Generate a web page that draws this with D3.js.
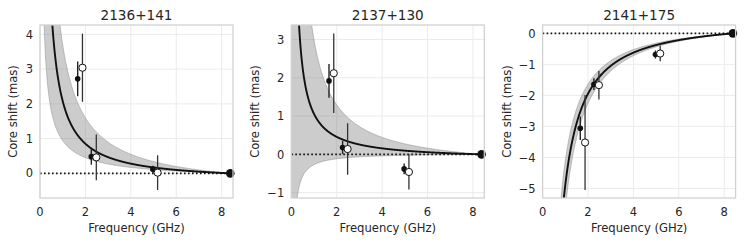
<!DOCTYPE html>
<html><head><meta charset="utf-8">
<script src="https://cdn.jsdelivr.net/npm/d3@7"></script>
<style>body{margin:0;background:#fff}svg{display:block}text{font-family:"DejaVu Sans",sans-serif;fill:#262626}</style>
</head><body><svg id="c" width="748" height="242"></svg>
<script>
const sources = ["2136+141", "2137+130", "2141+175"];
const xTicks = [0, 2, 4, 6, 8];
const xDomain = [0, 8.5];
const freqFilled = [1.66, 2.26, 4.97];
const freqOpen = [1.87, 2.48, 5.18];
const refFreq = 8.38;
const shiftFilled = [[2.72, 0.48, 0.12], [1.92, 0.18, -0.38], [-3.06, -1.64, -0.68]];
const errFilled = [[0.5, 0.23, 0.1], [0.44, 0.17, 0.14], [0.38, 0.19, 0.13]];
const shiftOpen = [[3.04, 0.46, 0.02], [2.12, 0.14, -0.46], [-3.52, -1.67, -0.65]];
const errOpen = [[0.98, 0.66, 0.5], [1.04, 0.67, 0.46], [1.53, 0.46, 0.25]];
const fitAmp = [2.3, 1.2, -5.35];
const fitPow = [1.1, 1.0, 1.15];
const bandHiAmp = [4.2, 3.4, -4.5];
const bandHiPow = [1.0, 1.0, 1.15];
const bandLoAmp = [1.15, -0.305, -6.2];
const bandLoPow = [0.8, 1.0, 1.15];
const yDomains = [[-0.71, 4.27], [-1.14, 3.38], [-5.31, 0.27]];
const yTicks = [[0, 1, 2, 3, 4], [-1, 0, 1, 2, 3], [-5, -4, -3, -2, -1, 0]];

const svg = d3.select("#c");
const lefts = [40, 291.3, 542.6];
const labelOff = [27, 36, 36];
const W = 193, topY = 25, botY = 198;
const fmt = v => (v < 0 ? "\u2212" + Math.abs(v) : "" + v);
const model = (a, p) => nu => Math.max(-60, Math.min(60, a * (Math.pow(nu, -p) - Math.pow(refFreq, -p))));
const nus = d3.range(0.03, refFreq + 1e-9, 0.01).concat([refFreq]);

sources.forEach((name, i) => {
  const L = lefts[i];
  const x = d3.scaleLinear().domain(xDomain).range([L, L + W]);
  const y = d3.scaleLinear().domain(yDomains[i]).range([botY, topY]);
  const g = svg.append("g");
  const cid = "clip" + i;
  svg.append("clipPath").attr("id", cid).append("rect").attr("x", L).attr("y", topY).attr("width", W).attr("height", botY - topY);

  g.append("g").selectAll("line").data(xTicks).join("line")
    .attr("x1", d => x(d)).attr("x2", d => x(d)).attr("y1", topY).attr("y2", botY)
    .attr("stroke", "#ebebeb").attr("stroke-width", 1);
  g.append("g").selectAll("line").data(yTicks[i]).join("line")
    .attr("y1", d => y(d)).attr("y2", d => y(d)).attr("x1", L).attr("x2", L + W)
    .attr("stroke", "#ebebeb").attr("stroke-width", 1);

  const pg = g.append("g").attr("clip-path", `url(#${cid})`);
  const hi = model(bandHiAmp[i], bandHiPow[i]);
  const lo = model(bandLoAmp[i], bandLoPow[i]);
  const fit = model(fitAmp[i], fitPow[i]);
  pg.append("path").datum(nus)
    .attr("d", d3.area().x(d => x(d)).y0(d => y(lo(d))).y1(d => y(hi(d))))
    .attr("fill", "#808080").attr("fill-opacity", 0.4).attr("stroke", "none");
  [hi, lo].forEach(f => pg.append("path").datum(nus)
    .attr("d", d3.line().x(d => x(d)).y(d => y(f(d))))
    .attr("fill", "none").attr("stroke", "#808080").attr("stroke-opacity", 0.45).attr("stroke-width", 1));
  pg.append("line").attr("x1", x(0)).attr("x2", x(refFreq)).attr("y1", y(0)).attr("y2", y(0))
    .attr("stroke", "#111").attr("stroke-width", 1.6).attr("stroke-dasharray", "1.6,2.4");
  pg.append("path").datum(nus)
    .attr("d", d3.line().x(d => x(d)).y(d => y(fit(d))))
    .attr("fill", "none").attr("stroke", "#111").attr("stroke-width", 1.9);

  const eg = g.append("g").attr("clip-path", `url(#${cid})`);
  freqFilled.forEach((f, j) => eg.append("line").attr("x1", x(f)).attr("x2", x(f))
    .attr("y1", y(shiftFilled[i][j] - errFilled[i][j])).attr("y2", y(shiftFilled[i][j] + errFilled[i][j]))
    .attr("stroke", "#222").attr("stroke-width", 1.4));
  freqOpen.forEach((f, j) => eg.append("line").attr("x1", x(f)).attr("x2", x(f))
    .attr("y1", y(shiftOpen[i][j] - errOpen[i][j])).attr("y2", y(shiftOpen[i][j] + errOpen[i][j]))
    .attr("stroke", "#333").attr("stroke-width", 1.3));
  freqFilled.forEach((f, j) => eg.append("circle").attr("cx", x(f)).attr("cy", y(shiftFilled[i][j]))
    .attr("r", 2.8).attr("fill", "#111"));
  freqOpen.forEach((f, j) => eg.append("circle").attr("cx", x(f)).attr("cy", y(shiftOpen[i][j]))
    .attr("r", 3.6).attr("fill", "#fff").attr("stroke", "#111").attr("stroke-width", 1));
  g.append("circle").attr("cx", x(refFreq)).attr("cy", y(0)).attr("r", 4.3).attr("fill", "#111");

  g.append("rect").attr("x", L).attr("y", topY).attr("width", W).attr("height", botY - topY)
    .attr("fill", "none").attr("stroke", "#d0d0d0").attr("stroke-width", 1.25);

  g.append("g").selectAll("text").data(xTicks).join("text")
    .attr("x", d => x(d)).attr("y", 215.5).attr("text-anchor", "middle")
    .attr("font-size", 11.5).text(d => fmt(d));
  g.append("g").selectAll("text").data(yTicks[i]).join("text")
    .attr("x", L - 7).attr("y", d => y(d)).attr("dy", "0.36em").attr("text-anchor", "end")
    .attr("font-size", 11.5).text(d => fmt(d));
  g.append("text").attr("x", L + W / 2).attr("y", 232).attr("text-anchor", "middle")
    .attr("font-size", 11.6).text("Frequency (GHz)");
  g.append("text").attr("transform", `translate(${L - labelOff[i]},${(topY + botY) / 2}) rotate(-90)`)
    .attr("text-anchor", "middle").attr("dy", "0.36em").attr("font-size", 11.6).text("Core shift (mas)");
  g.append("text").attr("x", L + W / 2).attr("y", 19.5).attr("text-anchor", "middle")
    .attr("font-size", 13.6).text(name);
});
</script></body></html>
